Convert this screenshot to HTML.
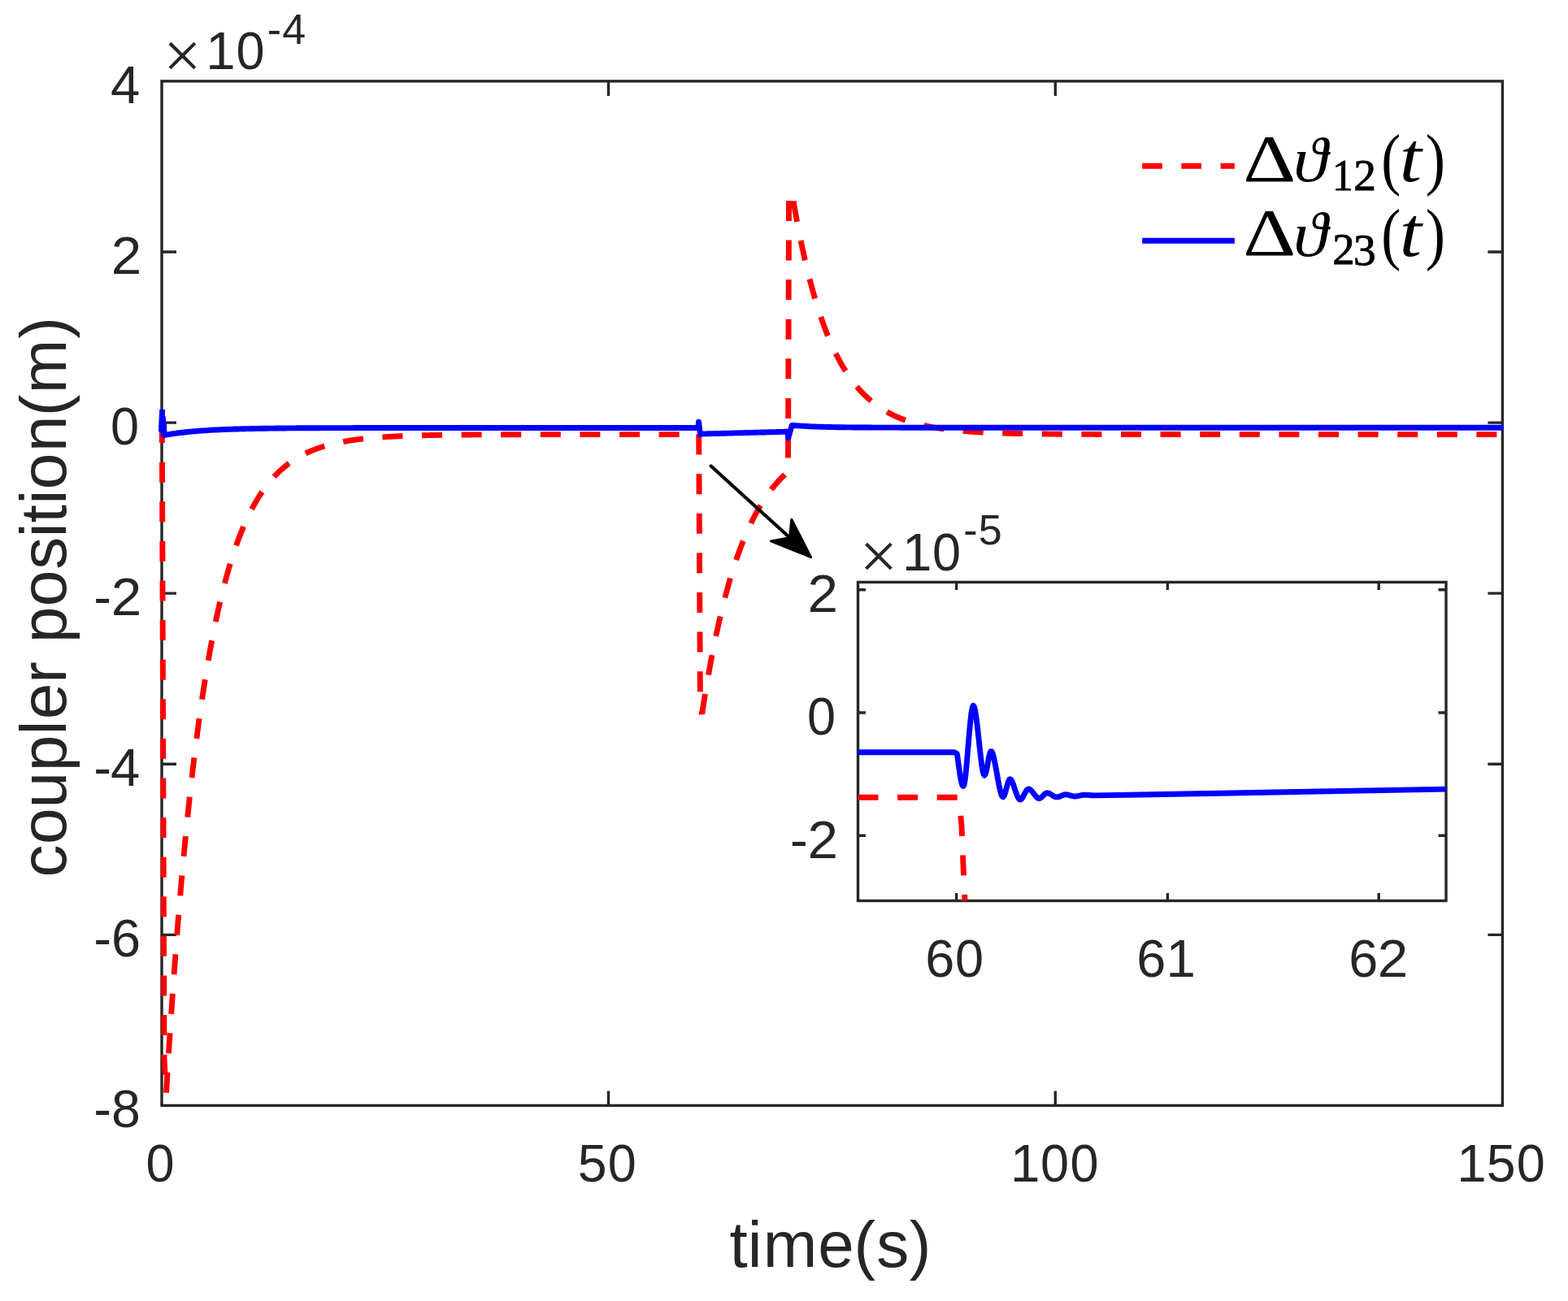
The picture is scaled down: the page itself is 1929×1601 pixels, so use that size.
<!DOCTYPE html>
<html lang="en"><head><meta charset="utf-8"><title>coupler position</title>
<style>html,body{margin:0;padding:0;background:#fff}body{width:1929px;height:1601px;overflow:hidden}svg{display:block}text{font-family:"Liberation Sans",sans-serif;fill:#262626;white-space:pre}.tk{font-size:65.5px}.lb{font-size:80px}.sup{font-size:52px}.mx{font-family:"Liberation Serif",serif;font-size:82.8px}.lg{font-family:"Liberation Serif",serif;fill:#000}.sb{stroke:#000;stroke-width:0.9}.it{font-style:italic}.ax{fill:none;stroke:#262626;stroke-width:3.4}.r{stroke:#f00}.b{stroke:#00f}.cv{fill:none;stroke-width:6.9;stroke-linejoin:round}</style></head><body>
<svg width="1929" height="1601" viewBox="0 0 1929 1601">
<rect width="1929" height="1601" fill="#fff"/>
<g class="ax">
<rect x="199" y="99.9" width="1649.4" height="1260.55"/>
<path d="M748.5 1360.45 V1342.45 M748.5 99.9 V117.9 M1298.3 1360.45 V1342.45 M1298.3 99.9 V117.9 M199 1150.36 H217 M1848.4 1150.36 H1830.4 M199 940.27 H217 M1848.4 940.27 H1830.4 M199 730.17 H217 M1848.4 730.17 H1830.4 M199 520.08 H217 M1848.4 520.08 H1830.4 M199 309.99 H217 M1848.4 309.99 H1830.4"/>
</g>
<g class="cv">
<path class="r" d="M199.33 520.08 L201.97 1302.67 L204.5 1344.69" stroke-dasharray="25 23.6" stroke-dashoffset="0"/>
<path class="r" d="M204.5 1344.69 L205.6 1326.49 L206.7 1308.69 L207.8 1291.3 L208.9 1274.29 L210 1257.67 L211.1 1241.42 L212.2 1225.54 L213.29 1210.01 L214.39 1194.84 L215.49 1180 L216.59 1165.5 L217.69 1151.32 L218.79 1137.46 L219.89 1123.91 L220.99 1110.67 L222.09 1097.73 L223.19 1085.07 L224.29 1072.7 L225.39 1060.61 L226.49 1048.79 L227.59 1037.23 L228.69 1025.94 L229.79 1014.9 L230.89 1004.1 L231.99 993.55 L233.09 983.24 L234.19 973.16 L235.29 963.3 L236.39 953.67 L237.49 944.25 L238.59 935.05 L239.69 926.05 L240.78 917.25 L241.88 908.65 L242.98 900.25 L244.08 892.03 L245.18 884 L246.28 876.14 L247.38 868.47 L248.48 860.97 L249.58 853.63 L250.68 846.46 L251.78 839.45 L252.88 832.6 L253.98 825.91 L255.08 819.36 L256.18 812.96 L257.28 806.71 L258.38 800.59 L259.48 794.61 L260.58 788.77 L261.68 783.06 L262.78 777.47 L263.88 772.02 L264.98 766.68 L266.08 761.47 L267.18 756.37 L268.27 751.38 L269.37 746.51 L270.47 741.75 L271.57 737.09 L272.67 732.54 L273.77 728.09 L274.87 723.75 L275.97 719.5 L277.07 715.34 L278.17 711.28 L279.27 707.31 L280.37 703.43 L281.47 699.63 L282.57 695.92 L283.67 692.3 L284.77 688.75 L285.87 685.29 L286.97 681.9 L288.07 678.59 L289.17 675.36 L290.27 672.19 L291.37 669.1 L292.47 666.08 L293.57 663.12 L294.67 660.23 L295.76 657.41 L296.86 654.65 L297.96 651.95 L299.06 649.32 L300.16 646.74 L301.26 644.22 L302.36 641.75 L303.46 639.34 L304.56 636.99 L305.66 634.69 L306.76 632.44 L307.86 630.24 L308.96 628.09 L310.06 625.99 L311.16 623.94 L312.26 621.93 L313.36 619.96 L314.46 618.05 L315.56 616.17 L316.66 614.34 L317.76 612.55 L318.86 610.79 L319.96 609.08 L321.06 607.41 L322.16 605.77 L323.25 604.17 L324.35 602.61 L325.45 601.08 L326.55 599.58 L327.65 598.12 L328.75 596.69 L329.85 595.3 L330.95 593.93 L332.05 592.6 L333.15 591.3 L334.25 590.02 L335.35 588.78 L336.45 587.56 L337.55 586.37 L338.65 585.2 L339.75 584.07 L340.85 582.96 L341.95 581.87 L343.05 580.81 L344.15 579.77 L345.25 578.75 L346.35 577.76 L347.45 576.79 L348.55 575.84 L349.65 574.91 L350.74 574.01 L351.84 573.12 L352.94 572.25 L354.04 571.41 L355.14 570.58 L356.24 569.77 L357.34 568.98 L358.44 568.21 L359.54 567.45 L360.64 566.71 L361.74 565.99 L362.84 565.29 L363.94 564.6 L365.04 563.92 L366.14 563.26 L367.24 562.62 L368.34 561.99 L369.44 561.37 L370.54 560.77 L371.64 560.18 L372.74 559.61 L373.84 559.04 L374.94 558.49 L376.04 557.96 L377.14 557.43 L378.23 556.92 L379.33 556.42 L380.43 555.92 L381.53 555.44 L382.63 554.98 L383.73 554.52 L384.83 554.07 L385.93 553.63 L387.03 553.2 L388.13 552.79 L389.23 552.38 L390.33 551.98 L391.43 551.59 L392.53 551.2 L393.63 550.83 L394.73 550.46 L395.83 550.11 L396.93 549.76 L398.03 549.42 L399.13 549.08 L400.23 548.76 L401.33 548.44 L402.43 548.13 L403.53 547.82 L404.63 547.53 L405.72 547.24 L406.82 546.95 L407.92 546.67 L409.02 546.4 L410.12 546.14 L411.22 545.88 L412.32 545.62 L413.42 545.37 L414.52 545.13 L415.62 544.89 L416.72 544.66 L417.82 544.44 L418.92 544.21 L420.02 544 L421.12 543.79 L422.22 543.58 L423.32 543.38 L424.42 543.18 L425.52 542.99 L426.62 542.8 L427.72 542.61 L428.82 542.43 L429.92 542.26 L431.02 542.08 L432.12 541.91 L433.21 541.75 L434.31 541.59 L435.41 541.43 L436.51 541.28 L437.61 541.13 L438.71 540.98 L439.81 540.84 L440.91 540.7 L442.01 540.56 L443.11 540.42 L444.21 540.29 L445.31 540.16 L446.41 540.04 L447.51 539.92 L448.61 539.8 L449.71 539.68 L450.81 539.56 L451.91 539.45 L453.01 539.34 L454.11 539.24 L455.21 539.13 L456.31 539.03 L457.41 538.93 L458.51 538.83 L459.61 538.74 L460.7 538.64 L461.8 538.55 L462.9 538.46 L464 538.37 L465.1 538.29 L466.2 538.21 L467.3 538.12 L468.4 538.04 L469.5 537.97 L470.6 537.89 L471.7 537.82 L472.8 537.74 L473.9 537.67 L475 537.6 L476.1 537.53 L477.2 537.47 L478.3 537.4 L479.4 537.34 L480.5 537.28 L481.6 537.22 L482.7 537.16 L483.8 537.1 L484.9 537.04 L486 536.99 L487.1 536.93 L488.19 536.88 L489.29 536.83 L490.39 536.78 L491.49 536.73 L492.59 536.68 L493.69 536.63 L494.79 536.59 L495.89 536.54 L496.99 536.5 L498.09 536.46 L499.19 536.41 L500.29 536.37 L501.39 536.33 L502.49 536.29 L503.59 536.25 L504.69 536.22 L505.79 536.18 L506.89 536.14 L507.99 536.11 L509.09 536.07 L510.19 536.04 L511.29 536.01 L512.39 535.98 L513.49 535.94 L514.59 535.91 L515.68 535.88 L516.78 535.85 L517.88 535.83 L518.98 535.8 L520.08 535.77 L521.18 535.74 L522.28 535.72 L523.38 535.69 L524.48 535.67 L525.58 535.64 L526.68 535.62 L527.78 535.6 L528.88 535.57 L529.98 535.55 L531.08 535.53 L532.18 535.51 L533.28 535.49 L534.38 535.47 L535.48 535.45 L536.58 535.43 L537.68 535.41 L538.78 535.39 L539.88 535.37 L540.98 535.35 L542.08 535.34 L543.17 535.32 L544.27 535.3 L545.37 535.29 L546.47 535.27 L547.57 535.25 L548.67 535.24 L549.77 535.22 L550.87 535.21 L551.97 535.2 L553.07 535.18 L554.17 535.17 L555.27 535.15 L556.37 535.14 L557.47 535.13 L558.57 535.12 L559.67 535.1 L560.77 535.09 L561.87 535.08 L562.97 535.07 L564.07 535.06 L565.17 535.05 L566.27 535.04 L567.37 535.03 L568.47 535.02 L569.57 535.01 L570.66 535 L571.76 534.99 L572.86 534.98 L573.96 534.97 L575.06 534.96 L576.16 534.95 L577.26 534.94 L578.36 534.94 L579.46 534.93 L580.56 534.92 L581.66 534.91 L582.76 534.91 L583.86 534.9 L584.96 534.89 L586.06 534.88 L587.16 534.88 L588.26 534.87 L589.36 534.86 L590.46 534.86 L591.56 534.85 L592.66 534.85 L593.76 534.84 L594.86 534.83 L595.96 534.83 L597.06 534.82 L598.15 534.82 L599.25 534.81 L600.35 534.81 L601.45 534.8 L602.55 534.8 L603.65 534.79 L604.75 534.79 L605.85 534.78 L606.95 534.78 L608.05 534.77 L609.15 534.77 L610.25 534.76 L611.35 534.76 L612.45 534.76 L613.55 534.75 L614.65 534.75 L615.75 534.74 L616.85 534.74 L617.95 534.74 L619.05 534.73 L620.15 534.73 L621.25 534.73 L622.35 534.72 L623.45 534.72 L624.55 534.72 L625.64 534.71 L626.74 534.71 L627.84 534.71 L628.94 534.71 L630.04 534.7 L631.14 534.7 L632.24 534.7 L633.34 534.69 L634.44 534.69 L635.54 534.69 L636.64 534.69 L637.74 534.68 L638.84 534.68 L639.94 534.68 L641.04 534.68 L642.14 534.68 L643.24 534.67 L644.34 534.67 L645.44 534.67 L646.54 534.67 L647.64 534.66 L648.74 534.66 L649.84 534.66 L650.94 534.66 L652.04 534.66 L653.13 534.66 L654.23 534.65 L655.33 534.65 L656.43 534.65 L657.53 534.65 L658.63 534.65 L659.73 534.65 L660.83 534.64 L661.93 534.64 L663.03 534.64 L664.13 534.64 L665.23 534.64 L666.33 534.64 L667.43 534.64 L668.53 534.64 L669.63 534.63 L670.73 534.63 L671.83 534.63 L672.93 534.63 L674.03 534.63 L675.13 534.63 L676.23 534.63 L677.33 534.63 L678.43 534.62 L679.53 534.62 L680.62 534.62 L681.72 534.62 L682.82 534.62 L683.92 534.62 L685.02 534.62 L686.12 534.62 L687.22 534.62 L688.32 534.62 L689.42 534.62 L690.52 534.61 L691.62 534.61 L692.72 534.61 L693.82 534.61 L694.92 534.61 L696.02 534.61 L697.12 534.61 L698.22 534.61 L699.32 534.61 L700.42 534.61 L701.52 534.61 L702.62 534.61 L703.72 534.61 L704.82 534.61 L705.92 534.61 L707.02 534.6 L708.11 534.6 L709.21 534.6 L710.31 534.6 L711.41 534.6 L712.51 534.6 L713.61 534.6 L714.71 534.6 L715.81 534.6 L716.91 534.6 L718.01 534.6 L719.11 534.6 L720.21 534.6 L721.31 534.6 L722.41 534.6 L723.51 534.6 L724.61 534.6 L725.71 534.6 L726.81 534.6 L727.91 534.6 L729.01 534.6 L730.11 534.6 L731.21 534.59 L732.31 534.59 L733.41 534.59 L734.51 534.59 L735.6 534.59 L736.7 534.59 L737.8 534.59 L738.9 534.59 L740 534.59 L741.1 534.59 L742.2 534.59 L743.3 534.59 L744.4 534.59 L745.5 534.59 L746.6 534.59 L747.7 534.59 L748.8 534.59 L749.9 534.59 L751 534.59 L752.1 534.59 L753.2 534.59 L754.3 534.59 L755.4 534.59 L756.5 534.59 L757.6 534.59 L758.7 534.59 L759.8 534.59 L760.9 534.59 L762 534.59 L763.09 534.59 L764.19 534.59 L765.29 534.59 L766.39 534.59 L767.49 534.59 L768.59 534.59 L769.69 534.59 L770.79 534.59 L771.89 534.59 L772.99 534.59 L774.09 534.59 L775.19 534.59 L776.29 534.59 L777.39 534.59 L778.49 534.59 L779.59 534.59 L780.69 534.59 L781.79 534.58 L782.89 534.58 L783.99 534.58 L785.09 534.58 L786.19 534.58 L787.29 534.58 L788.39 534.58 L789.49 534.58 L790.58 534.58 L791.68 534.58 L792.78 534.58 L793.88 534.58 L794.98 534.58 L796.08 534.58 L797.18 534.58 L798.28 534.58 L799.38 534.58 L800.48 534.58 L801.58 534.58 L802.68 534.58 L803.78 534.58 L804.88 534.58 L805.98 534.58 L807.08 534.58 L808.18 534.58 L809.28 534.58 L810.38 534.58 L811.48 534.58 L812.58 534.58 L813.68 534.58 L814.78 534.58 L815.88 534.58 L816.98 534.58 L818.07 534.58 L819.17 534.58 L820.27 534.58 L821.37 534.58 L822.47 534.58 L823.57 534.58 L824.67 534.58 L825.77 534.58 L826.87 534.58 L827.97 534.58 L829.07 534.58 L830.17 534.58 L831.27 534.58 L832.37 534.58 L833.47 534.58 L834.57 534.58 L835.67 534.58 L836.77 534.58 L837.87 534.58 L838.97 534.58 L840.07 534.58 L841.17 534.58 L842.27 534.58 L843.37 534.58 L844.47 534.58 L845.56 534.58 L846.66 534.58 L847.76 534.58 L848.86 534.58 L849.96 534.58 L851.06 534.58 L852.16 534.58 L853.26 534.58 L854.36 534.58 L855.46 534.58 L856.56 534.58 L857.66 534.58 L859.75 534.58" stroke-dasharray="25 23.6" stroke-dashoffset="0"/>
<path class="r" d="M859.75 534.58 L861.4 855.18 L863.49 879.34" stroke-dasharray="25 23.6" stroke-dashoffset="0"/>
<path class="r" d="M863.49 879.34 L864.59 872.2 L865.69 865.21 L866.79 858.37 L867.89 851.66 L868.99 845.1 L870.09 838.67 L871.19 832.37 L872.29 826.21 L873.38 820.17 L874.48 814.26 L875.58 808.47 L876.68 802.8 L877.78 797.25 L878.88 791.81 L879.98 786.48 L881.08 781.27 L882.18 776.16 L883.28 771.16 L884.38 766.26 L885.48 761.46 L886.58 756.77 L887.68 752.17 L888.78 747.66 L889.88 743.25 L890.98 738.93 L892.08 734.7 L893.18 730.56 L894.28 726.5 L895.38 722.53 L896.48 718.63 L897.58 714.82 L898.68 711.09 L899.78 707.44 L900.87 703.86 L901.97 700.35 L903.07 696.92 L904.17 693.56 L905.27 690.27 L906.37 687.05 L907.47 683.89 L908.57 680.8 L909.67 677.77 L910.77 674.81 L911.87 671.9 L912.97 669.06 L914.07 666.28 L915.17 663.55 L916.27 660.88 L917.37 658.27 L918.47 655.7 L919.57 653.2 L920.67 650.74 L921.77 648.34 L922.87 645.98 L923.97 643.67 L925.07 641.42 L926.17 639.2 L927.27 637.04 L928.36 634.92 L929.46 632.84 L930.56 630.81 L931.66 628.81 L932.76 626.86 L933.86 624.95 L934.96 623.08 L936.06 621.25 L937.16 619.45 L938.26 617.7 L939.36 615.98 L940.46 614.29 L941.56 612.64 L942.66 611.02 L943.76 609.44 L944.86 607.89 L945.96 606.37 L947.06 604.89 L948.16 603.43 L949.26 602.01 L950.36 600.61 L951.46 599.24 L952.56 597.91 L953.66 596.59 L954.76 595.31 L955.85 594.05 L956.95 592.82 L958.05 591.62 L959.15 590.44 L960.25 589.28 L961.35 588.15 L962.45 587.04 L963.55 585.95 L964.65 584.89 L965.75 583.85 L966.85 582.83 L967.95 581.83 L969.49 581.83" stroke-dasharray="25 23.6" stroke-dashoffset="47.9"/>
<path class="r" d="M969.49 581.83 L970.53 247.3" stroke-dasharray="25 23.6" stroke-dashoffset="30.27"/>
<path class="r" d="M976.58 250.75 L976.58 250.75 L977.68 257.01 L978.78 263.14 L979.88 269.13 L980.98 274.99 L982.08 280.72 L983.18 286.32 L984.28 291.8 L985.38 297.16 L986.48 302.4 L987.58 307.53 L988.68 312.54 L989.78 317.44 L990.88 322.24 L991.98 326.92 L993.08 331.51 L994.18 335.99 L995.28 340.37 L996.37 344.66 L997.47 348.85 L998.57 352.95 L999.67 356.96 L1000.77 360.88 L1001.87 364.72 L1002.97 368.47 L1004.07 372.13 L1005.17 375.72 L1006.27 379.23 L1007.37 382.65 L1008.47 386.01 L1009.57 389.29 L1010.67 392.49 L1011.77 395.63 L1012.87 398.7 L1013.97 401.7 L1015.07 404.63 L1016.17 407.5 L1017.27 410.3 L1018.37 413.05 L1019.47 415.73 L1020.57 418.35 L1021.67 420.92 L1022.77 423.43 L1023.86 425.88 L1024.96 428.28 L1026.06 430.63 L1027.16 432.92 L1028.26 435.17 L1029.36 437.36 L1030.46 439.51 L1031.56 441.61 L1032.66 443.66 L1033.76 445.67 L1034.86 447.63 L1035.96 449.55 L1037.06 451.42 L1038.16 453.26 L1039.26 455.05 L1040.36 456.81 L1041.46 458.53 L1042.56 460.21 L1043.66 461.85 L1044.76 463.45 L1045.86 465.02 L1046.96 466.56 L1048.06 468.06 L1049.16 469.53 L1050.26 470.96 L1051.35 472.37 L1052.45 473.74 L1053.55 475.08 L1054.65 476.4 L1055.75 477.68 L1056.85 478.94 L1057.95 480.17 L1059.05 481.37 L1060.15 482.54 L1061.25 483.69 L1062.35 484.81 L1063.45 485.91 L1064.55 486.99 L1065.65 488.04 L1066.75 489.07 L1067.85 490.07 L1068.95 491.05 L1070.05 492.01 L1071.15 492.95 L1072.25 493.87 L1073.35 494.77 L1074.45 495.65 L1075.55 496.51 L1076.65 497.35 L1077.75 498.17 L1078.84 498.97 L1079.94 499.76 L1081.04 500.53 L1082.14 501.28 L1083.24 502.02 L1084.34 502.73 L1085.44 503.44 L1086.54 504.12 L1087.64 504.8 L1088.74 505.45 L1089.84 506.1 L1090.94 506.73 L1092.04 507.34 L1093.14 507.94 L1094.24 508.53 L1095.34 509.11 L1096.44 509.67 L1097.54 510.22 L1098.64 510.76 L1099.74 511.28 L1100.84 511.8 L1101.94 512.3 L1103.04 512.79 L1104.14 513.27 L1105.24 513.74 L1106.33 514.2 L1107.43 514.65 L1108.53 515.09 L1109.63 515.52 L1110.73 515.94 L1111.83 516.35 L1112.93 516.76 L1114.03 517.15 L1115.13 517.53 L1116.23 517.91 L1117.33 518.28 L1118.43 518.64 L1119.53 518.99 L1120.63 519.33 L1121.73 519.67 L1122.83 520 L1123.93 520.32 L1125.03 520.64 L1126.13 520.94 L1127.23 521.25 L1128.33 521.54 L1129.43 521.83 L1130.53 522.11 L1131.63 522.38 L1132.73 522.65 L1133.82 522.92 L1134.92 523.17 L1136.02 523.43 L1137.12 523.67 L1138.22 523.91 L1139.32 524.15 L1140.42 524.38 L1141.52 524.6 L1142.62 524.82 L1143.72 525.04 L1144.82 525.25 L1145.92 525.46 L1147.02 525.66 L1148.12 525.85 L1149.22 526.05 L1150.32 526.24 L1151.42 526.42 L1152.52 526.6 L1153.62 526.78 L1154.72 526.95 L1155.82 527.12 L1156.92 527.28 L1158.02 527.44 L1159.12 527.6 L1160.22 527.75 L1161.31 527.9 L1162.41 528.05 L1163.51 528.2 L1164.61 528.34 L1165.71 528.47 L1166.81 528.61 L1167.91 528.74 L1169.01 528.87 L1170.11 529 L1171.21 529.12 L1172.31 529.24 L1173.41 529.36 L1174.51 529.47 L1175.61 529.59 L1176.71 529.7 L1177.81 529.8 L1178.91 529.91 L1180.01 530.01 L1181.11 530.11 L1182.21 530.21 L1183.31 530.31 L1184.41 530.4 L1185.51 530.49 L1186.61 530.58 L1187.71 530.67 L1188.8 530.76 L1189.9 530.84 L1191 530.93 L1192.1 531.01 L1193.2 531.09 L1194.3 531.16 L1195.4 531.24 L1196.5 531.31 L1197.6 531.38 L1198.7 531.45 L1199.8 531.52 L1200.9 531.59 L1202 531.66 L1203.1 531.72 L1204.2 531.78 L1205.3 531.85 L1206.4 531.91 L1207.5 531.97 L1208.6 532.02 L1209.7 532.08 L1210.8 532.13 L1211.9 532.19 L1213 532.24 L1214.1 532.29 L1215.2 532.34 L1216.29 532.39 L1217.39 532.44 L1218.49 532.49 L1219.59 532.53 L1220.69 532.58 L1221.79 532.62 L1222.89 532.67 L1223.99 532.71 L1225.09 532.75 L1226.19 532.79 L1227.29 532.83 L1228.39 532.87 L1229.49 532.91 L1230.59 532.94 L1231.69 532.98 L1232.79 533.02 L1233.89 533.05 L1234.99 533.08 L1236.09 533.12 L1237.19 533.15 L1238.29 533.18 L1239.39 533.21 L1240.49 533.24 L1241.59 533.27 L1242.69 533.3 L1243.78 533.33 L1244.88 533.36 L1245.98 533.38 L1247.08 533.41 L1248.18 533.44 L1249.28 533.46 L1250.38 533.49 L1251.48 533.51 L1252.58 533.53 L1253.68 533.56 L1254.78 533.58 L1255.88 533.6 L1256.98 533.62 L1258.08 533.64 L1259.18 533.66 L1260.28 533.68 L1261.38 533.7 L1262.48 533.72 L1263.58 533.74 L1264.68 533.76 L1265.78 533.78 L1266.88 533.8 L1267.98 533.81 L1269.08 533.83 L1270.18 533.85 L1271.27 533.86 L1272.37 533.88 L1273.47 533.89 L1274.57 533.91 L1275.67 533.92 L1276.77 533.94 L1277.87 533.95 L1278.97 533.97 L1280.07 533.98 L1281.17 533.99 L1282.27 534.01 L1283.37 534.02 L1284.47 534.03 L1285.57 534.04 L1286.67 534.06 L1287.77 534.07 L1288.87 534.08 L1289.97 534.09 L1291.07 534.1 L1292.17 534.11 L1293.27 534.12 L1294.37 534.13 L1295.47 534.14 L1296.57 534.15 L1297.67 534.16 L1298.76 534.17 L1299.86 534.18 L1300.96 534.19 L1302.06 534.2 L1303.16 534.2 L1304.26 534.21 L1305.36 534.22 L1306.46 534.23 L1307.56 534.24 L1308.66 534.24 L1309.76 534.25 L1310.86 534.26 L1311.96 534.27 L1313.06 534.27 L1314.16 534.28 L1315.26 534.29 L1316.36 534.29 L1317.46 534.3 L1318.56 534.31 L1319.66 534.31 L1320.76 534.32 L1321.86 534.32 L1322.96 534.33 L1324.06 534.33 L1325.16 534.34 L1326.25 534.35 L1327.35 534.35 L1328.45 534.36 L1329.55 534.36 L1330.65 534.37 L1331.75 534.37 L1332.85 534.37 L1333.95 534.38 L1335.05 534.38 L1336.15 534.39 L1337.25 534.39 L1338.35 534.4 L1339.45 534.4 L1340.55 534.4 L1341.65 534.41 L1342.75 534.41 L1343.85 534.42 L1344.95 534.42 L1346.05 534.42 L1347.15 534.43 L1348.25 534.43 L1349.35 534.43 L1350.45 534.44 L1351.55 534.44 L1352.65 534.44 L1353.74 534.45 L1354.84 534.45 L1355.94 534.45 L1357.04 534.45 L1358.14 534.46 L1359.24 534.46 L1360.34 534.46 L1361.44 534.46 L1362.54 534.47 L1363.64 534.47 L1364.74 534.47 L1365.84 534.47 L1366.94 534.48 L1368.04 534.48 L1369.14 534.48 L1370.24 534.48 L1371.34 534.49 L1372.44 534.49 L1373.54 534.49 L1374.64 534.49 L1375.74 534.49 L1376.84 534.5 L1377.94 534.5 L1379.04 534.5 L1380.14 534.5 L1381.23 534.5 L1382.33 534.5 L1383.43 534.51 L1384.53 534.51 L1385.63 534.51 L1386.73 534.51 L1387.83 534.51 L1388.93 534.51 L1390.03 534.52 L1391.13 534.52 L1392.23 534.52 L1393.33 534.52 L1394.43 534.52 L1395.53 534.52 L1396.63 534.52 L1397.73 534.52 L1398.83 534.53 L1399.93 534.53 L1401.03 534.53 L1402.13 534.53 L1403.23 534.53 L1404.33 534.53 L1405.43 534.53 L1406.53 534.53 L1407.63 534.53 L1408.72 534.54 L1409.82 534.54 L1410.92 534.54 L1412.02 534.54 L1413.12 534.54 L1414.22 534.54 L1415.32 534.54 L1416.42 534.54 L1417.52 534.54 L1418.62 534.54 L1419.72 534.54 L1420.82 534.55 L1421.92 534.55 L1423.02 534.55 L1424.12 534.55 L1425.22 534.55 L1426.32 534.55 L1427.42 534.55 L1428.52 534.55 L1429.62 534.55 L1430.72 534.55 L1431.82 534.55 L1432.92 534.55 L1434.02 534.55 L1435.12 534.55 L1436.21 534.55 L1437.31 534.56 L1438.41 534.56 L1439.51 534.56 L1440.61 534.56 L1441.71 534.56 L1442.81 534.56 L1443.91 534.56 L1445.01 534.56 L1446.11 534.56 L1447.21 534.56 L1448.31 534.56 L1449.41 534.56 L1450.51 534.56 L1451.61 534.56 L1452.71 534.56 L1453.81 534.56 L1454.91 534.56 L1456.01 534.56 L1457.11 534.56 L1458.21 534.56 L1459.31 534.56 L1460.41 534.56 L1461.51 534.56 L1462.61 534.56 L1463.7 534.57 L1464.8 534.57 L1465.9 534.57 L1467 534.57 L1468.1 534.57 L1469.2 534.57 L1470.3 534.57 L1471.4 534.57 L1472.5 534.57 L1473.6 534.57 L1474.7 534.57 L1475.8 534.57 L1476.9 534.57 L1478 534.57 L1479.1 534.57 L1480.2 534.57 L1481.3 534.57 L1482.4 534.57 L1483.5 534.57 L1484.6 534.57 L1485.7 534.57 L1486.8 534.57 L1487.9 534.57 L1489 534.57 L1490.1 534.57 L1491.19 534.57 L1492.29 534.57 L1493.39 534.57 L1494.49 534.57 L1495.59 534.57 L1496.69 534.57 L1497.79 534.57 L1498.89 534.57 L1499.99 534.57 L1501.09 534.57 L1502.19 534.57 L1503.29 534.57 L1504.39 534.57 L1505.49 534.57 L1506.59 534.57 L1507.69 534.57 L1508.79 534.57 L1509.89 534.57 L1510.99 534.57 L1512.09 534.57 L1513.19 534.57 L1514.29 534.57 L1515.39 534.57 L1516.49 534.57 L1517.59 534.57 L1518.68 534.57 L1519.78 534.58 L1520.88 534.58 L1521.98 534.58 L1523.08 534.58 L1524.18 534.58 L1525.28 534.58 L1526.38 534.58 L1527.48 534.58 L1528.58 534.58 L1529.68 534.58 L1530.78 534.58 L1531.88 534.58 L1532.98 534.58 L1534.08 534.58 L1535.18 534.58 L1536.28 534.58 L1537.38 534.58 L1538.48 534.58 L1539.58 534.58 L1540.68 534.58 L1541.78 534.58 L1542.88 534.58 L1543.98 534.58 L1545.08 534.58 L1546.17 534.58 L1547.27 534.58 L1548.37 534.58 L1549.47 534.58 L1550.57 534.58 L1551.67 534.58 L1552.77 534.58 L1553.87 534.58 L1554.97 534.58 L1556.07 534.58 L1557.17 534.58 L1558.27 534.58 L1559.37 534.58 L1560.47 534.58 L1561.57 534.58 L1562.67 534.58 L1563.77 534.58 L1564.87 534.58 L1565.97 534.58 L1567.07 534.58 L1568.17 534.58 L1569.27 534.58 L1570.37 534.58 L1571.47 534.58 L1572.57 534.58 L1573.66 534.58 L1574.76 534.58 L1575.86 534.58 L1576.96 534.58 L1578.06 534.58 L1579.16 534.58 L1580.26 534.58 L1581.36 534.58 L1582.46 534.58 L1583.56 534.58 L1584.66 534.58 L1585.76 534.58 L1586.86 534.58 L1587.96 534.58 L1589.06 534.58 L1590.16 534.58 L1591.26 534.58 L1592.36 534.58 L1593.46 534.58 L1594.56 534.58 L1595.66 534.58 L1596.76 534.58 L1597.86 534.58 L1598.96 534.58 L1600.06 534.58 L1601.15 534.58 L1602.25 534.58 L1603.35 534.58 L1604.45 534.58 L1605.55 534.58 L1606.65 534.58 L1607.75 534.58 L1608.85 534.58 L1609.95 534.58 L1611.05 534.58 L1612.15 534.58 L1613.25 534.58 L1614.35 534.58 L1615.45 534.58 L1616.55 534.58 L1617.65 534.58 L1618.75 534.58 L1619.85 534.58 L1620.95 534.58 L1622.05 534.58 L1623.15 534.58 L1624.25 534.58 L1625.35 534.58 L1626.45 534.58 L1627.55 534.58 L1628.64 534.58 L1629.74 534.58 L1630.84 534.58 L1631.94 534.58 L1633.04 534.58 L1634.14 534.58 L1635.24 534.58 L1636.34 534.58 L1637.44 534.58 L1638.54 534.58 L1639.64 534.58 L1640.74 534.58 L1641.84 534.58 L1642.94 534.58 L1644.04 534.58 L1645.14 534.58 L1646.24 534.58 L1647.34 534.58 L1648.44 534.58 L1649.54 534.58 L1650.64 534.58 L1651.74 534.58 L1652.84 534.58 L1653.94 534.58 L1655.04 534.58 L1656.13 534.58 L1657.23 534.58 L1658.33 534.58 L1659.43 534.58 L1660.53 534.58 L1661.63 534.58 L1662.73 534.58 L1663.83 534.58 L1664.93 534.58 L1666.03 534.58 L1667.13 534.58 L1668.23 534.58 L1669.33 534.58 L1670.43 534.58 L1671.53 534.58 L1672.63 534.58 L1673.73 534.58 L1674.83 534.58 L1675.93 534.58 L1677.03 534.58 L1678.13 534.58 L1679.23 534.58 L1680.33 534.58 L1681.43 534.58 L1682.53 534.58 L1683.62 534.58 L1684.72 534.58 L1685.82 534.58 L1686.92 534.58 L1688.02 534.58 L1689.12 534.58 L1690.22 534.58 L1691.32 534.58 L1692.42 534.58 L1693.52 534.58 L1694.62 534.58 L1695.72 534.58 L1696.82 534.58 L1697.92 534.58 L1699.02 534.58 L1700.12 534.58 L1701.22 534.58 L1702.32 534.58 L1703.42 534.58 L1704.52 534.58 L1705.62 534.58 L1706.72 534.58 L1707.82 534.58 L1708.92 534.58 L1710.02 534.58 L1711.11 534.58 L1712.21 534.58 L1713.31 534.58 L1714.41 534.58 L1715.51 534.58 L1716.61 534.58 L1717.71 534.58 L1718.81 534.58 L1719.91 534.58 L1721.01 534.58 L1722.11 534.58 L1723.21 534.58 L1724.31 534.58 L1725.41 534.58 L1726.51 534.58 L1727.61 534.58 L1728.71 534.58 L1729.81 534.58 L1730.91 534.58 L1732.01 534.58 L1733.11 534.58 L1734.21 534.58 L1735.31 534.58 L1736.41 534.58 L1737.51 534.58 L1738.6 534.58 L1739.7 534.58 L1740.8 534.58 L1741.9 534.58 L1743 534.58 L1744.1 534.58 L1745.2 534.58 L1746.3 534.58 L1747.4 534.58 L1748.5 534.58 L1749.6 534.58 L1750.7 534.58 L1751.8 534.58 L1752.9 534.58 L1754 534.58 L1755.1 534.58 L1756.2 534.58 L1757.3 534.58 L1758.4 534.58 L1759.5 534.58 L1760.6 534.58 L1761.7 534.58 L1762.8 534.58 L1763.9 534.58 L1765 534.58 L1766.09 534.58 L1767.19 534.58 L1768.29 534.58 L1769.39 534.58 L1770.49 534.58 L1771.59 534.58 L1772.69 534.58 L1773.79 534.58 L1774.89 534.58 L1775.99 534.58 L1777.09 534.58 L1778.19 534.58 L1779.29 534.58 L1780.39 534.58 L1781.49 534.58 L1782.59 534.58 L1783.69 534.58 L1784.79 534.58 L1785.89 534.58 L1786.99 534.58 L1788.09 534.58 L1789.19 534.58 L1790.29 534.58 L1791.39 534.58 L1792.49 534.58 L1793.58 534.58 L1794.68 534.58 L1795.78 534.58 L1796.88 534.58 L1797.98 534.58 L1799.08 534.58 L1800.18 534.58 L1801.28 534.58 L1802.38 534.58 L1803.48 534.58 L1804.58 534.58 L1805.68 534.58 L1806.78 534.58 L1807.88 534.58 L1808.98 534.58 L1810.08 534.58 L1811.18 534.58 L1812.28 534.58 L1813.38 534.58 L1814.48 534.58 L1815.58 534.58 L1816.68 534.58 L1817.78 534.58 L1818.88 534.58 L1819.98 534.58 L1821.07 534.58 L1822.17 534.58 L1823.27 534.58 L1824.37 534.58 L1825.47 534.58 L1826.57 534.58 L1827.67 534.58 L1828.77 534.58 L1829.87 534.58 L1830.97 534.58 L1832.07 534.58 L1833.17 534.58 L1834.27 534.58 L1835.37 534.58 L1836.47 534.58 L1837.57 534.58 L1838.67 534.58 L1839.77 534.58 L1840.87 534.58 L1841.97 534.58 L1843.07 534.58 L1844.17 534.58 L1845.27 534.58 L1846.37 534.58 L1847.47 534.58 L1849.39 534.58" stroke-dasharray="25 23.6" stroke-dashoffset="2.6"/>
<path class="r" d="M967.08 250.75 L980.03 250.75"/>
<path class="b" d="M199.65 503.9 L198.5 529 L200.4 514 L201.2 533 L201.6 523 L202 535.5 L202.3 535.43 L204.5 535.04 L206.7 534.67 L208.9 534.31 L211.1 533.97 L213.29 533.65 L215.49 533.33 L217.69 533.04 L219.89 532.75 L222.09 532.48 L224.29 532.22 L226.49 531.97 L228.69 531.73 L230.89 531.5 L233.09 531.29 L235.29 531.08 L237.49 530.88 L239.69 530.69 L241.88 530.51 L244.08 530.33 L246.28 530.16 L248.48 530 L250.68 529.85 L252.88 529.71 L255.08 529.57 L257.28 529.43 L259.48 529.3 L261.68 529.18 L263.88 529.07 L266.08 528.95 L268.27 528.85 L270.47 528.74 L272.67 528.65 L274.87 528.55 L277.07 528.46 L279.27 528.38 L281.47 528.29 L283.67 528.22 L285.87 528.14 L288.07 528.07 L290.27 528 L292.47 527.94 L294.67 527.87 L296.86 527.81 L299.06 527.76 L301.26 527.7 L303.46 527.65 L305.66 527.6 L307.86 527.55 L310.06 527.5 L312.26 527.46 L314.46 527.42 L316.66 527.38 L318.86 527.34 L321.06 527.3 L323.25 527.27 L325.45 527.23 L327.65 527.2 L329.85 527.17 L332.05 527.14 L334.25 527.11 L336.45 527.08 L338.65 527.06 L340.85 527.03 L343.05 527.01 L345.25 526.99 L347.45 526.97 L349.65 526.95 L351.84 526.93 L354.04 526.91 L356.24 526.89 L358.44 526.87 L360.64 526.86 L362.84 526.84 L365.04 526.82 L367.24 526.81 L369.44 526.8 L371.64 526.78 L373.84 526.77 L376.04 526.76 L378.23 526.75 L380.43 526.74 L382.63 526.72 L384.83 526.71 L387.03 526.7 L389.23 526.7 L391.43 526.69 L393.63 526.68 L395.83 526.67 L398.03 526.66 L400.23 526.65 L402.43 526.65 L404.63 526.64 L406.82 526.63 L409.02 526.63 L411.22 526.62 L413.42 526.62 L415.62 526.61 L417.82 526.61 L420.02 526.6 L422.22 526.6 L424.42 526.59 L426.62 526.59 L428.82 526.58 L431.02 526.58 L433.21 526.58 L435.41 526.57 L437.61 526.57 L439.81 526.56 L442.01 526.56 L444.21 526.56 L446.41 526.56 L448.61 526.55 L450.81 526.55 L453.01 526.55 L455.21 526.54 L457.41 526.54 L459.61 526.54 L461.8 526.54 L464 526.54 L466.2 526.53 L468.4 526.53 L470.6 526.53 L472.8 526.53 L475 526.53 L477.2 526.53 L479.4 526.52 L481.6 526.52 L483.8 526.52 L486 526.52 L488.19 526.52 L490.39 526.52 L492.59 526.52 L494.79 526.52 L496.99 526.51 L499.19 526.51 L501.39 526.51 L503.59 526.51 L505.79 526.51 L507.99 526.51 L510.19 526.51 L512.39 526.51 L514.59 526.51 L516.78 526.51 L518.98 526.51 L521.18 526.51 L523.38 526.5 L525.58 526.5 L527.78 526.5 L529.98 526.5 L532.18 526.5 L534.38 526.5 L536.58 526.5 L538.78 526.5 L540.98 526.5 L543.17 526.5 L545.37 526.5 L547.57 526.5 L549.77 526.5 L551.97 526.5 L554.17 526.5 L556.37 526.5 L558.57 526.5 L560.77 526.5 L562.97 526.5 L565.17 526.5 L567.37 526.5 L569.57 526.5 L571.76 526.5 L573.96 526.5 L576.16 526.5 L578.36 526.5 L580.56 526.5 L582.76 526.5 L584.96 526.5 L587.16 526.49 L589.36 526.49 L591.56 526.49 L593.76 526.49 L595.96 526.49 L598.15 526.49 L600.35 526.49 L602.55 526.49 L604.75 526.49 L606.95 526.49 L609.15 526.49 L611.35 526.49 L613.55 526.49 L615.75 526.49 L617.95 526.49 L620.15 526.49 L622.35 526.49 L624.55 526.49 L626.74 526.49 L628.94 526.49 L631.14 526.49 L633.34 526.49 L635.54 526.49 L637.74 526.49 L639.94 526.49 L642.14 526.49 L644.34 526.49 L646.54 526.49 L648.74 526.49 L650.94 526.49 L653.13 526.49 L655.33 526.49 L657.53 526.49 L659.73 526.49 L661.93 526.49 L664.13 526.49 L666.33 526.49 L668.53 526.49 L670.73 526.49 L672.93 526.49 L675.13 526.49 L677.33 526.49 L679.53 526.49 L681.72 526.49 L683.92 526.49 L686.12 526.49 L688.32 526.49 L690.52 526.49 L692.72 526.49 L694.92 526.49 L697.12 526.49 L699.32 526.49 L701.52 526.49 L703.72 526.49 L705.92 526.49 L708.11 526.49 L710.31 526.49 L712.51 526.49 L714.71 526.49 L716.91 526.49 L719.11 526.49 L721.31 526.49 L723.51 526.49 L725.71 526.49 L727.91 526.49 L730.11 526.49 L732.31 526.49 L734.51 526.49 L736.7 526.49 L738.9 526.49 L741.1 526.49 L743.3 526.49 L745.5 526.49 L747.7 526.49 L749.9 526.49 L752.1 526.49 L754.3 526.49 L756.5 526.49 L758.7 526.49 L760.9 526.49 L763.09 526.49 L765.29 526.49 L767.49 526.49 L769.69 526.49 L771.89 526.49 L774.09 526.49 L776.29 526.49 L778.49 526.49 L780.69 526.49 L782.89 526.49 L785.09 526.49 L787.29 526.49 L789.49 526.49 L791.68 526.49 L793.88 526.49 L796.08 526.49 L798.28 526.49 L800.48 526.49 L802.68 526.49 L804.88 526.49 L807.08 526.49 L809.28 526.49 L811.48 526.49 L813.68 526.49 L815.88 526.49 L818.07 526.49 L820.27 526.49 L822.47 526.49 L824.67 526.49 L826.87 526.49 L829.07 526.49 L831.27 526.49 L833.47 526.49 L835.67 526.49 L837.87 526.49 L840.07 526.49 L842.27 526.49 L844.47 526.49 L846.66 526.49 L848.86 526.49 L851.06 526.49 L853.26 526.49 L855.46 526.49 L857.66 526.49 L859.09 526.49 L859.53 519.24 L861.51 534.79 L862.06 534 L864.26 533.94 L866.46 533.89 L868.66 533.83 L870.86 533.77 L873.05 533.71 L875.25 533.66 L877.45 533.6 L879.65 533.54 L881.85 533.49 L884.05 533.43 L886.25 533.37 L888.45 533.31 L890.65 533.26 L892.85 533.2 L895.05 533.14 L897.25 533.08 L899.45 533.03 L901.64 532.97 L903.84 532.91 L906.04 532.85 L908.24 532.8 L910.44 532.74 L912.64 532.68 L914.84 532.62 L917.04 532.57 L919.24 532.51 L921.44 532.45 L923.64 532.39 L925.84 532.34 L928.03 532.28 L930.23 532.22 L932.43 532.17 L934.63 532.11 L936.83 532.05 L939.03 531.99 L941.23 531.94 L943.43 531.88 L945.63 531.82 L947.83 531.76 L950.03 531.71 L952.23 531.65 L954.43 531.59 L956.62 531.53 L958.82 531.48 L961.02 531.42 L963.22 531.36 L965.42 531.3 L967.62 531.25 L968.72 531.22 L969.82 538.89 L974.22 523.34 L974.22 523.34 L976.42 523.53 L978.62 523.7 L980.82 523.86 L983.01 524.02 L985.21 524.16 L987.41 524.29 L989.61 524.42 L991.81 524.53 L994.01 524.64 L996.21 524.75 L998.41 524.84 L1000.61 524.93 L1002.81 525.01 L1005.01 525.09 L1007.21 525.17 L1009.41 525.23 L1011.6 525.3 L1013.8 525.36 L1016 525.41 L1018.2 525.47 L1020.4 525.52 L1022.6 525.56 L1024.8 525.61 L1027 525.65 L1029.2 525.68 L1031.4 525.72 L1033.6 525.75 L1035.8 525.78 L1037.99 525.81 L1040.19 525.84 L1042.39 525.86 L1044.59 525.89 L1046.79 525.91 L1048.99 525.93 L1051.19 525.95 L1053.39 525.97 L1055.59 525.98 L1057.79 526 L1059.99 526.01 L1062.19 526.03 L1064.39 526.04 L1066.58 526.05 L1068.78 526.06 L1070.98 526.07 L1073.18 526.08 L1075.38 526.09 L1077.58 526.1 L1079.78 526.11 L1081.98 526.12 L1084.18 526.13 L1086.38 526.13 L1088.58 526.14 L1090.78 526.14 L1092.97 526.15 L1095.17 526.15 L1097.37 526.16 L1099.57 526.16 L1101.77 526.17 L1103.97 526.17 L1106.17 526.18 L1108.37 526.18 L1110.57 526.18 L1112.77 526.19 L1114.97 526.19 L1117.17 526.19 L1119.37 526.19 L1121.56 526.2 L1123.76 526.2 L1125.96 526.2 L1128.16 526.2 L1130.36 526.2 L1132.56 526.2 L1134.76 526.21 L1136.96 526.21 L1139.16 526.21 L1141.36 526.21 L1143.56 526.21 L1145.76 526.21 L1147.95 526.21 L1150.15 526.21 L1152.35 526.22 L1154.55 526.22 L1156.75 526.22 L1158.95 526.22 L1161.15 526.22 L1163.35 526.22 L1165.55 526.22 L1167.75 526.22 L1169.95 526.22 L1172.15 526.22 L1174.35 526.22 L1176.54 526.22 L1178.74 526.22 L1180.94 526.22 L1183.14 526.22 L1185.34 526.22 L1187.54 526.22 L1189.74 526.22 L1191.94 526.22 L1194.14 526.22 L1196.34 526.23 L1198.54 526.23 L1200.74 526.23 L1202.93 526.23 L1205.13 526.23 L1207.33 526.23 L1209.53 526.23 L1211.73 526.23 L1213.93 526.23 L1216.13 526.23 L1218.33 526.23 L1220.53 526.23 L1222.73 526.23 L1224.93 526.23 L1227.13 526.23 L1229.33 526.23 L1231.52 526.23 L1233.72 526.23 L1235.92 526.23 L1238.12 526.23 L1240.32 526.23 L1242.52 526.23 L1244.72 526.23 L1246.92 526.23 L1249.12 526.23 L1251.32 526.23 L1253.52 526.23 L1255.72 526.23 L1257.91 526.23 L1260.11 526.23 L1262.31 526.23 L1264.51 526.23 L1266.71 526.23 L1268.91 526.23 L1271.11 526.23 L1273.31 526.23 L1275.51 526.23 L1277.71 526.23 L1279.91 526.23 L1282.11 526.23 L1284.31 526.23 L1286.5 526.23 L1288.7 526.23 L1290.9 526.23 L1293.1 526.23 L1295.3 526.23 L1297.5 526.23 L1299.7 526.23 L1301.9 526.23 L1304.1 526.23 L1306.3 526.23 L1308.5 526.23 L1310.7 526.23 L1312.89 526.23 L1315.09 526.23 L1317.29 526.23 L1319.49 526.23 L1321.69 526.23 L1323.89 526.23 L1326.09 526.23 L1328.29 526.23 L1330.49 526.23 L1332.69 526.23 L1334.89 526.23 L1337.09 526.23 L1339.29 526.23 L1341.48 526.23 L1343.68 526.23 L1345.88 526.23 L1348.08 526.23 L1350.28 526.23 L1352.48 526.23 L1354.68 526.23 L1356.88 526.23 L1359.08 526.23 L1361.28 526.23 L1363.48 526.23 L1365.68 526.23 L1367.87 526.23 L1370.07 526.23 L1372.27 526.23 L1374.47 526.23 L1376.67 526.23 L1378.87 526.23 L1381.07 526.23 L1383.27 526.23 L1385.47 526.23 L1387.67 526.23 L1389.87 526.23 L1392.07 526.23 L1394.27 526.23 L1396.46 526.23 L1398.66 526.23 L1400.86 526.23 L1403.06 526.23 L1405.26 526.23 L1407.46 526.23 L1409.66 526.23 L1411.86 526.23 L1414.06 526.23 L1416.26 526.23 L1418.46 526.23 L1420.66 526.23 L1422.85 526.23 L1425.05 526.23 L1427.25 526.23 L1429.45 526.23 L1431.65 526.23 L1433.85 526.23 L1436.05 526.23 L1438.25 526.23 L1440.45 526.23 L1442.65 526.23 L1444.85 526.23 L1447.05 526.23 L1449.25 526.23 L1451.44 526.23 L1453.64 526.23 L1455.84 526.23 L1458.04 526.23 L1460.24 526.23 L1462.44 526.23 L1464.64 526.23 L1466.84 526.23 L1469.04 526.23 L1471.24 526.23 L1473.44 526.23 L1475.64 526.23 L1477.83 526.23 L1480.03 526.23 L1482.23 526.23 L1484.43 526.23 L1486.63 526.23 L1488.83 526.23 L1491.03 526.23 L1493.23 526.23 L1495.43 526.23 L1497.63 526.23 L1499.83 526.23 L1502.03 526.23 L1504.23 526.23 L1506.42 526.23 L1508.62 526.23 L1510.82 526.23 L1513.02 526.23 L1515.22 526.23 L1517.42 526.23 L1519.62 526.23 L1521.82 526.23 L1524.02 526.23 L1526.22 526.23 L1528.42 526.23 L1530.62 526.23 L1532.81 526.23 L1535.01 526.23 L1537.21 526.23 L1539.41 526.23 L1541.61 526.23 L1543.81 526.23 L1546.01 526.23 L1548.21 526.23 L1550.41 526.23 L1552.61 526.23 L1554.81 526.23 L1557.01 526.23 L1559.21 526.23 L1561.4 526.23 L1563.6 526.23 L1565.8 526.23 L1568 526.23 L1570.2 526.23 L1572.4 526.23 L1574.6 526.23 L1576.8 526.23 L1579 526.23 L1581.2 526.23 L1583.4 526.23 L1585.6 526.23 L1587.79 526.23 L1589.99 526.23 L1592.19 526.23 L1594.39 526.23 L1596.59 526.23 L1598.79 526.23 L1600.99 526.23 L1603.19 526.23 L1605.39 526.23 L1607.59 526.23 L1609.79 526.23 L1611.99 526.23 L1614.19 526.23 L1616.38 526.23 L1618.58 526.23 L1620.78 526.23 L1622.98 526.23 L1625.18 526.23 L1627.38 526.23 L1629.58 526.23 L1631.78 526.23 L1633.98 526.23 L1636.18 526.23 L1638.38 526.23 L1640.58 526.23 L1642.77 526.23 L1644.97 526.23 L1647.17 526.23 L1649.37 526.23 L1651.57 526.23 L1653.77 526.23 L1655.97 526.23 L1658.17 526.23 L1660.37 526.23 L1662.57 526.23 L1664.77 526.23 L1666.97 526.23 L1669.17 526.23 L1671.36 526.23 L1673.56 526.23 L1675.76 526.23 L1677.96 526.23 L1680.16 526.23 L1682.36 526.23 L1684.56 526.23 L1686.76 526.23 L1688.96 526.23 L1691.16 526.23 L1693.36 526.23 L1695.56 526.23 L1697.75 526.23 L1699.95 526.23 L1702.15 526.23 L1704.35 526.23 L1706.55 526.23 L1708.75 526.23 L1710.95 526.23 L1713.15 526.23 L1715.35 526.23 L1717.55 526.23 L1719.75 526.23 L1721.95 526.23 L1724.15 526.23 L1726.34 526.23 L1728.54 526.23 L1730.74 526.23 L1732.94 526.23 L1735.14 526.23 L1737.34 526.23 L1739.54 526.23 L1741.74 526.23 L1743.94 526.23 L1746.14 526.23 L1748.34 526.23 L1750.54 526.23 L1752.73 526.23 L1754.93 526.23 L1757.13 526.23 L1759.33 526.23 L1761.53 526.23 L1763.73 526.23 L1765.93 526.23 L1768.13 526.23 L1770.33 526.23 L1772.53 526.23 L1774.73 526.23 L1776.93 526.23 L1779.13 526.23 L1781.32 526.23 L1783.52 526.23 L1785.72 526.23 L1787.92 526.23 L1790.12 526.23 L1792.32 526.23 L1794.52 526.23 L1796.72 526.23 L1798.92 526.23 L1801.12 526.23 L1803.32 526.23 L1805.52 526.23 L1807.71 526.23 L1809.91 526.23 L1812.11 526.23 L1814.31 526.23 L1816.51 526.23 L1818.71 526.23 L1820.91 526.23 L1823.11 526.23 L1825.31 526.23 L1827.51 526.23 L1829.71 526.23 L1831.91 526.23 L1834.11 526.23 L1836.3 526.23 L1838.5 526.23 L1840.7 526.23 L1842.9 526.23 L1845.1 526.23 L1847.3 526.23 L1849.39 526.23"/>
</g>
<g class="tk">
<text y="126.9"><tspan x="135.98" textLength="36.25" lengthAdjust="spacingAndGlyphs">4</tspan></text>
<text y="336.99"><tspan x="136.72" textLength="37.52" lengthAdjust="spacingAndGlyphs">2</tspan></text>
<text y="547.08"><tspan x="136.12" textLength="35.04" lengthAdjust="spacingAndGlyphs">0</tspan></text>
<text y="757.17"><tspan x="115.29">-</tspan><tspan x="136.72" textLength="37.52" lengthAdjust="spacingAndGlyphs">2</tspan></text>
<text y="967.27"><tspan x="115.29">-</tspan><tspan x="135.98" textLength="36.25" lengthAdjust="spacingAndGlyphs">4</tspan></text>
<text y="1177.36"><tspan x="115.29">-</tspan><tspan x="137.03" textLength="36.06" lengthAdjust="spacingAndGlyphs">6</tspan></text>
<text y="1387.45"><tspan x="115.29">-</tspan><tspan x="137.09" textLength="35.88" lengthAdjust="spacingAndGlyphs">8</tspan></text>
<text y="1454.35"><tspan x="179.48" textLength="35.04" lengthAdjust="spacingAndGlyphs">0</tspan></text>
<text y="1454.35"><tspan x="710.81" textLength="35.88" lengthAdjust="spacingAndGlyphs">5</tspan><tspan x="747.66" textLength="35.04" lengthAdjust="spacingAndGlyphs">0</tspan></text>
<text y="1454.35"><tspan x="1242.97">1</tspan><tspan x="1280.09" textLength="35.04" lengthAdjust="spacingAndGlyphs">0</tspan><tspan x="1316.52" textLength="35.04" lengthAdjust="spacingAndGlyphs">0</tspan></text>
<text y="1454.35"><tspan x="1792.17">1</tspan><tspan x="1828.87" textLength="35.88" lengthAdjust="spacingAndGlyphs">5</tspan><tspan x="1865.72" textLength="35.04" lengthAdjust="spacingAndGlyphs">0</tspan></text>
<text y="85.4"><tspan class="mx" x="201.01" dy="10.2">×</tspan><tspan x="253.3" dy="-10.2">1</tspan><tspan x="290.43" textLength="35.04" lengthAdjust="spacingAndGlyphs">0</tspan><tspan class="sup" x="328.74 347.16" dy="-31.5">-4</tspan></text>
</g>
<text class="lb" x="897.47 919.78 938.71 1006.28 1050.38 1078.28 1118.78" y="1559.1">time(s)</text>
<text class="lb" x="-1079.49 -1039.1 -994.49 -949.19 -904.46 -885.37 -840.66 -810 -791.29 -746.2 -700.67 -661.37 -643.38 -620.52 -602.25 -556.05 -512.27 -484.14 -416.77" y="80.9" transform="rotate(-90)">coupler position(m)</text>
<g class="cv">
<path class="r" d="M1405.2 204.3 H1518.9" stroke-dasharray="24.6 23.6"/>
<path class="b" d="M1405.2 296.2 H1518.9"/>
</g>
<text class="lg"><tspan x="1529.25" y="222.5" font-size="82.86" textLength="65.06" lengthAdjust="spacingAndGlyphs">Δ</tspan><tspan class="it" x="1591.3" y="223.03" font-size="79.02" textLength="41.94" lengthAdjust="spacingAndGlyphs">ϑ</tspan><tspan class="sb" x="1638.88" y="233.5" font-size="54.38" textLength="25.71" lengthAdjust="spacingAndGlyphs">1</tspan><tspan class="sb" x="1665.17" y="233.5" font-size="54.22" textLength="27.69" lengthAdjust="spacingAndGlyphs">2</tspan><tspan x="1699.13" y="223.94" font-size="84.81" textLength="23.99" lengthAdjust="spacingAndGlyphs">(</tspan><tspan class="it" x="1721.81" y="222.96" font-size="85.9" textLength="27.14" lengthAdjust="spacingAndGlyphs">t</tspan><tspan x="1753.85" y="223.94" font-size="84.81" textLength="24.25" lengthAdjust="spacingAndGlyphs">)</tspan></text>
<text class="lg"><tspan x="1529.25" y="314.4" font-size="82.86" textLength="65.06" lengthAdjust="spacingAndGlyphs">Δ</tspan><tspan class="it" x="1591.3" y="314.93" font-size="79.02" textLength="41.94" lengthAdjust="spacingAndGlyphs">ϑ</tspan><tspan class="sb" x="1639.2" y="325.4" font-size="54.22" textLength="27.31" lengthAdjust="spacingAndGlyphs">2</tspan><tspan class="sb" x="1664.95" y="326.45" font-size="55.81" textLength="27.72" lengthAdjust="spacingAndGlyphs">3</tspan><tspan x="1699.13" y="315.84" font-size="84.81" textLength="23.99" lengthAdjust="spacingAndGlyphs">(</tspan><tspan class="it" x="1721.81" y="314.86" font-size="85.9" textLength="27.14" lengthAdjust="spacingAndGlyphs">t</tspan><tspan x="1753.85" y="315.84" font-size="84.81" textLength="24.25" lengthAdjust="spacingAndGlyphs">)</tspan></text>
<g class="ax">
<rect x="1055.5" y="716.4" width="723.5" height="392.1"/>
<path d="M1176.6 1108.5 V1099 M1176.6 716.4 V725.9 M1436.4 1108.5 V1099 M1436.4 716.4 V725.9 M1696.2 1108.5 V1099 M1696.2 716.4 V725.9 M1055.5 1028.2 H1065 M1779 1028.2 H1769.5 M1055.5 877 H1065 M1779 877 H1769.5 M1055.5 725.8 H1065 M1779 725.8 H1769.5"/>
</g>
<g class="cv">
<path class="r" d="M1055.5 981.2 L1178.3 981.2 L1181 995 L1183 1016 L1185 1065 L1187 1108.5" stroke-dasharray="25 23.6" stroke-linejoin="bevel"/>
<path class="b" d="M1055.5 925.8 L1174.2 925.8 L1177.3 927.5 L1177.81 930.4 L1178.44 934.91 L1179.19 940.5 L1180.03 946.64 L1180.94 952.83 L1181.92 958.52 L1182.92 963.21 L1183.95 966.36 L1184.99 967.44 L1186 965.95 L1187.02 960.88 L1188.07 952.22 L1189.15 940.92 L1190.27 927.95 L1191.4 914.25 L1192.55 900.79 L1193.73 888.5 L1194.91 878.36 L1196.1 871.3 L1197.3 868.3 L1198.53 869.87 L1199.79 875.33 L1201.09 883.78 L1202.41 894.35 L1203.73 906.15 L1205.05 918.29 L1206.34 929.91 L1207.61 940.1 L1208.83 947.99 L1210 952.7 L1211.1 954.08 L1212.13 952.96 L1213.11 949.94 L1214.06 945.59 L1214.99 940.52 L1215.93 935.3 L1216.88 930.52 L1217.86 926.77 L1218.9 924.63 L1220 924.7 L1221.18 927.2 L1222.43 931.65 L1223.73 937.58 L1225.06 944.5 L1226.41 951.93 L1227.75 959.4 L1229.08 966.42 L1230.38 972.51 L1231.62 977.2 L1232.8 980 L1233.9 980.76 L1234.94 979.9 L1235.93 977.78 L1236.89 974.76 L1237.82 971.23 L1238.76 967.55 L1239.7 964.09 L1240.66 961.21 L1241.65 959.29 L1242.7 958.7 L1243.79 959.51 L1244.92 961.38 L1246.07 964.05 L1247.25 967.27 L1248.43 970.78 L1249.62 974.34 L1250.81 977.69 L1251.99 980.56 L1253.16 982.72 L1254.3 983.9 L1255.42 984.03 L1256.52 983.34 L1257.6 982.02 L1258.68 980.25 L1259.76 978.22 L1260.84 976.13 L1261.92 974.15 L1263.03 972.49 L1264.15 971.33 L1265.3 970.85 L1266.49 971.1 L1267.71 971.89 L1268.95 973.11 L1270.22 974.61 L1271.49 976.28 L1272.75 977.98 L1274.01 979.58 L1275.24 980.95 L1276.44 981.97 L1277.6 982.5 L1278.71 982.52 L1279.78 982.15 L1280.82 981.47 L1281.84 980.57 L1282.84 979.56 L1283.84 978.51 L1284.85 977.52 L1285.87 976.68 L1286.92 976.07 L1288 975.8 L1289.11 975.87 L1290.25 976.2 L1291.41 976.72 L1292.58 977.38 L1293.76 978.12 L1294.94 978.88 L1296.12 979.6 L1297.29 980.22 L1298.45 980.67 L1299.6 980.9 L1300.73 980.9 L1301.85 980.72 L1302.96 980.41 L1304.07 980 L1305.17 979.53 L1306.27 979.05 L1307.37 978.6 L1308.48 978.21 L1309.58 977.93 L1310.7 977.8 L1311.82 977.82 L1312.95 977.96 L1314.08 978.19 L1315.22 978.49 L1316.36 978.81 L1317.49 979.15 L1318.63 979.46 L1319.76 979.72 L1320.88 979.91 L1322 980 L1323.1 979.98 L1324.19 979.87 L1325.26 979.7 L1326.33 979.49 L1327.39 979.25 L1328.47 979 L1329.56 978.76 L1330.68 978.56 L1331.82 978.39 L1333 978.3 L1334.28 978.27 L1335.68 978.28 L1337.16 978.33 L1338.68 978.4 L1340.19 978.49 L1341.64 978.59 L1342.99 978.69 L1344.2 978.78 L1345.22 978.85 L1346 978.9 L1400 978 L1779 971.1"/>
</g>
<g class="tk">
<text y="753.2"><tspan x="993.62" textLength="37.52" lengthAdjust="spacingAndGlyphs">2</tspan></text>
<text y="904.4"><tspan x="993.02" textLength="35.04" lengthAdjust="spacingAndGlyphs">0</tspan></text>
<text y="1055.6"><tspan x="971.99">-</tspan><tspan x="993.62" textLength="37.52" lengthAdjust="spacingAndGlyphs">2</tspan></text>
<text y="1201.7"><tspan x="1138.17" textLength="36.06" lengthAdjust="spacingAndGlyphs">6</tspan><tspan x="1175.11" textLength="35.04" lengthAdjust="spacingAndGlyphs">0</tspan></text>
<text y="1201.7"><tspan x="1398.29" textLength="36.06" lengthAdjust="spacingAndGlyphs">6</tspan><tspan x="1434.54">1</tspan></text>
<text y="1201.7"><tspan x="1659.14" textLength="36.06" lengthAdjust="spacingAndGlyphs">6</tspan><tspan x="1694.84" textLength="37.52" lengthAdjust="spacingAndGlyphs">2</tspan></text>
<text y="701.6"><tspan class="mx" x="1057.61" dy="10.2">×</tspan><tspan x="1109.9" dy="-10.2">1</tspan><tspan x="1147.03" textLength="35.04" lengthAdjust="spacingAndGlyphs">0</tspan><tspan class="sup" x="1185.34 1203.64" dy="-31.5">-5</tspan></text>
</g>
<g fill="#000" stroke="#000" stroke-linejoin="round" stroke-linecap="round">
<path d="M874.6 573.5 L972 662" fill="none" stroke-width="4.2"/>
<path d="M997.6 685.7 L973.8 639.2 L971.6 661.6 L948.4 665.9 Z" stroke-width="3"/>
</g>
</svg></body></html>
